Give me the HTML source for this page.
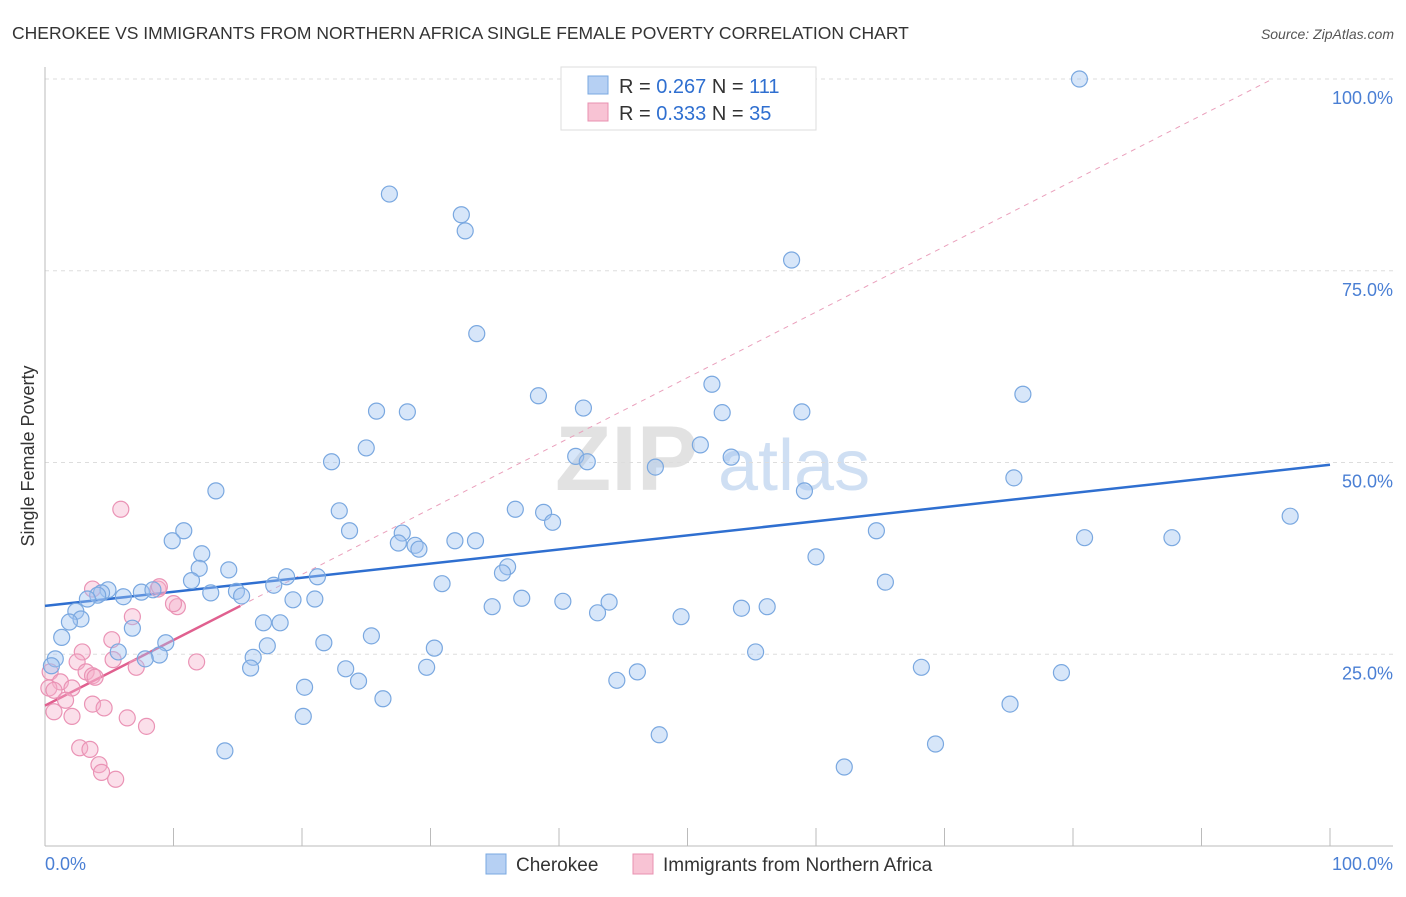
<!DOCTYPE html>
<html><head><meta charset="utf-8"><style>
body{margin:0;background:#fff;font-family:"Liberation Sans",sans-serif}
svg text{font-family:"Liberation Sans",sans-serif}
</style></head><body>
<svg id="chart" width="1406" height="892" viewBox="0 0 1406 892" xmlns="http://www.w3.org/2000/svg">
<text x="12" y="39" font-size="17.5" fill="#333">CHEROKEE VS IMMIGRANTS FROM NORTHERN AFRICA SINGLE FEMALE POVERTY CORRELATION CHART</text>
<text x="1394" y="39" font-size="14" fill="#555" text-anchor="end" font-style="italic">Source: ZipAtlas.com</text>
<text x="555" y="490" font-size="92" fill="#ccc" opacity="0.55" font-family="Liberation Serif" font-weight="bold">ZIP</text>
<text x="718" y="490" font-size="72" fill="#a9c6ea" opacity="0.55">atlas</text>
<g id="grid"></g>
<g id="axes"></g>
<g id="trend"></g>
<g id="pts"></g>
<text transform="translate(34,456) rotate(-90)" font-size="18" fill="#333" text-anchor="middle">Single Female Poverty</text>
<g>
<rect x="561" y="67" width="255" height="63" fill="#fff" stroke="#ddd"/>
<rect x="588" y="76" width="20" height="18" fill="#b6d0f3" stroke="#7aa8e0"/>
<rect x="588" y="103" width="20" height="18" fill="#f8c3d4" stroke="#e890b0"/>
<text x="619" y="93" font-size="20" fill="#333">R = <tspan fill="#2f6fd0">0.267</tspan>   N = <tspan fill="#2f6fd0">111</tspan></text>
<text x="619" y="120" font-size="20" fill="#333">R = <tspan fill="#2f6fd0">0.333</tspan>   N = <tspan fill="#2f6fd0">35</tspan></text>
</g>
<g>
<rect x="486" y="854" width="20" height="20" fill="#b6d0f3" stroke="#7aa8e0"/>
<text x="516" y="871" font-size="19" fill="#333">Cherokee</text>
<rect x="633" y="854" width="20" height="20" fill="#f8c3d4" stroke="#e890b0"/>
<text x="663" y="871" font-size="19" fill="#333">Immigrants from Northern Africa</text>
</g>
</svg>
<script>
const blueX=[80.5,26.8,32.4,32.7,58.1,33.6,51.9,38.4,76.1,25.8,28.2,41.9,52.7,58.9,25.0,51.0,41.3,42.2,53.4,22.3,47.5,75.4,13.3,59.1,22.9,36.6,38.8,39.5,23.7,10.8,64.7,96.9,80.9,87.7,27.8,9.9,27.5,31.9,33.5,28.8,29.1,12.2,60.0,36.0,35.6,12.0,14.3,18.8,21.2,11.4,30.9,65.4,17.8,4.9,4.4,4.1,6.1,7.5,8.4,12.9,14.9,15.3,3.3,19.3,21.0,37.1,40.3,43.9,34.8,54.2,56.2,43.0,2.4,2.8,1.9,17.0,18.3,6.8,49.5,25.4,1.3,21.7,9.4,17.3,30.3,5.7,55.3,8.9,7.8,16.2,0.8,0.5,16.0,23.4,29.7,68.2,46.1,79.1,44.5,24.4,20.2,26.3,75.1,20.1,47.8,14.0,69.3,62.2];
const blueY=[100.0,85.0,82.3,80.2,76.4,66.8,60.2,58.7,58.9,56.7,56.6,57.1,56.5,56.6,51.9,52.3,50.8,50.1,50.7,50.1,49.4,48.0,46.3,46.3,43.7,43.9,43.5,42.2,41.1,41.1,41.1,43.0,40.2,40.2,40.8,39.8,39.5,39.8,39.8,39.2,38.7,38.1,37.7,36.4,35.6,36.2,36.0,35.1,35.1,34.6,34.2,34.4,34.0,33.4,33.0,32.7,32.5,33.1,33.4,33.0,33.2,32.6,32.2,32.1,32.2,32.3,31.9,31.8,31.2,31.0,31.2,30.4,30.6,29.6,29.2,29.1,29.1,28.4,29.9,27.4,27.2,26.5,26.5,26.1,25.8,25.3,25.3,24.9,24.4,24.6,24.4,23.5,23.2,23.1,23.3,23.3,22.7,22.6,21.6,21.5,20.7,19.2,18.5,16.9,14.5,12.4,13.3,10.3];
const pinkX=[5.9,8.8,3.7,10.3,6.8,5.2,2.9,11.8,2.5,5.3,7.1,3.2,3.7,0.4,1.2,0.3,0.7,2.1,3.9,1.6,3.7,0.7,2.1,4.6,6.4,7.9,2.7,3.5,4.2,4.4,5.5,8.9,10.0];
const pinkY=[43.9,33.5,33.5,31.2,29.9,26.9,25.3,24.0,24.0,24.3,23.3,22.7,22.2,22.7,21.4,20.6,20.3,20.6,22.0,19.0,18.5,17.5,16.9,18.0,16.7,15.6,12.8,12.6,10.6,9.6,8.7,33.8,31.6];
const yTicks=[25,50,75,100];
const yTickLabels=["25.0%","50.0%","75.0%","100.0%"];
const xTicks=[0,10,20,30,40,50,60,70,80,90,100];
const blueTrend=[31.3,49.7];
const pinkTrend=[18.3,31.3,15.2];

const NS="http://www.w3.org/2000/svg";
const sx=v=>45+v*12.85, sy=v=>846-v*7.67;
function mk(parent,tag,attrs){const e=document.createElementNS(NS,tag);for(const k in attrs)e.setAttribute(k,attrs[k]);document.getElementById(parent).appendChild(e);return e;}
yTicks.forEach((t,i)=>{
  const g=mk('grid','line',{x1:45,x2:1393,y1:sy(t),y2:sy(t),stroke:'#ddd','stroke-dasharray':'4,4'});
  
  
  const l=mk('axes','text',{x:1393,y:sy(t)+25,'font-size':18,fill:'#4a7fd4','text-anchor':'end'});
  l.textContent=yTickLabels[i];
  
  
});
let a=mk('axes','line',{x1:45,x2:45,y1:67,y2:846,stroke:'#bbb'});


a=mk('axes','line',{x1:45,x2:1393,y1:846,y2:846,stroke:'#bbb'});


xTicks.forEach(t=>{const k=mk('axes','line',{x1:sx(t),x2:sx(t),y1:828,y2:846,stroke:'#bbb'});
  
  });
let xl=mk('axes','text',{x:45,y:870,'font-size':18,fill:'#4a7fd4'});xl.textContent='0.0%';


xl=mk('axes','text',{x:1393,y:870,'font-size':18,fill:'#4a7fd4','text-anchor':'end'});xl.textContent='100.0%';


// points
pinkX.forEach((x,i)=>{const c=mk('pts','circle',{cx:sx(x),cy:sy(pinkY[i]),r:8,fill:'rgba(246,175,202,0.4)',stroke:'#ea93b5','stroke-width':1.2});
  
  });
blueX.forEach((x,i)=>{const c=mk('pts','circle',{cx:sx(x),cy:sy(blueY[i]),r:8,fill:'rgba(160,196,240,0.42)',stroke:'#7aa8e0','stroke-width':1.2});
  
  });
// trends
const slope=(pinkTrend[1]-pinkTrend[0])/pinkTrend[2];
const xEnd=(100-pinkTrend[0])/slope;
let t=mk('trend','line',{x1:sx(pinkTrend[2]),y1:sy(pinkTrend[1]),x2:sx(xEnd),y2:sy(100),stroke:'#eaa0bc','stroke-width':1,'stroke-dasharray':'5,5'});


t=mk('trend','line',{x1:sx(0),y1:sy(blueTrend[0]),x2:sx(100),y2:sy(blueTrend[1]),stroke:'#2f6fd0','stroke-width':2.5});


t=mk('trend','line',{x1:sx(0),y1:sy(pinkTrend[0]),x2:sx(pinkTrend[2]),y2:sy(pinkTrend[1]),stroke:'#e0608f','stroke-width':2.5});


</script>
</body></html>
